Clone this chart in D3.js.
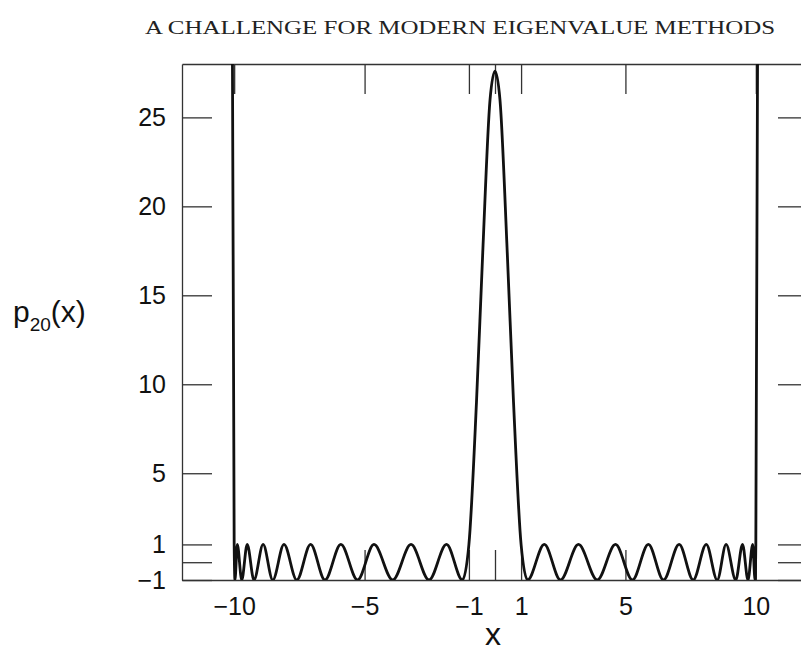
<!DOCTYPE html>
<html>
<head>
  <meta charset="utf-8">
  <title>p20(x)</title>
  <script src="https://d3js.org/d3.v7.min.js"></script>
  <style>
    body { margin: 0; background: #fff; }
    .tick text { font-family: "Liberation Sans", Arial, sans-serif; font-size: 25px; fill: #111; }
    .domain, .tick line { stroke: #333; stroke-width: 1.3px; }
  </style>
</head>
<body>
<svg id="chart" width="801" height="654"></svg>
<script>
  // points: extrema of the oscillations and a few points on the central peak
  const curveX = [
    -10.08, -10.0, -9.97, -9.88, -9.71, -9.50, -9.24, -8.89, -8.52, -8.09, -7.60,
    -7.07, -6.52, -5.91, -5.27, -4.64, -3.92, -3.22, -2.53, -1.86, -1.25, -1.0,
    -0.71, -0.47, -0.19, 0,
    0.19, 0.47, 0.71, 1.0, 1.25, 1.89, 2.51, 3.20, 3.92, 4.62, 5.27, 5.88, 6.46,
    7.06, 7.60, 8.10, 8.52, 8.86, 9.23, 9.49, 9.70, 9.88, 9.97, 10.0, 10.08
  ];
  const curveY = [
    34, 1, -1, 1, -1, 1, -1, 1, -1, 1, -1,
    1, -1, 1, -1, 1, -1, 1, -1, 1, -1, 1,
    9.0, 17.4, 26.0, 27.6,
    26.0, 17.4, 9.0, 1, -1, 1, -1, 1, -1, 1, -1, 1, -1,
    1, -1, 1, -1, 1, -1, 1, -1, 1, -1, 1, 34
  ];

  const xTicks = [-10, -5, -1, 0, 1, 5, 10];
  const yTicks = [-1, 0, 1, 5, 10, 15, 20, 25];
  const title = "A CHALLENGE FOR MODERN EIGENVALUE METHODS";

  const svg = d3.select("#chart");

  const x = d3.scaleLinear().domain([-12, 12]).range([182, 808]);
  const y = d3.scaleLinear().domain([-1, 28]).range([580, 64]);

  const fmt = d => d === 0 ? "" : d3.format("d")(d);

  // frame with inward ticks on all four sides
  svg.append("g")
    .attr("transform", "translate(0,580)")
    .call(d3.axisBottom(x).tickValues(xTicks).tickFormat(fmt).tickSizeInner(-30).tickSizeOuter(0).tickPadding(17));
  svg.append("g")
    .attr("transform", "translate(0,64)")
    .call(d3.axisTop(x).tickValues(xTicks).tickFormat("").tickSizeInner(-30).tickSizeOuter(0));
  svg.append("g")
    .attr("transform", "translate(182,0)")
    .call(d3.axisLeft(y).tickValues(yTicks).tickFormat(fmt).tickSizeInner(-30).tickSizeOuter(0).tickPadding(16));
  svg.append("g")
    .attr("transform", "translate(808,0)")
    .call(d3.axisRight(y).tickValues(yTicks).tickFormat("").tickSizeInner(-30).tickSizeOuter(0));

  svg.append("clipPath").attr("id", "plot")
    .append("rect").attr("x", 182).attr("y", 64).attr("width", 626).attr("height", 516);

  const pts = curveX.map((v, i) => [v, curveY[i]]);
  const line = d3.line()
    .x(d => x(d[0]))
    .y(d => y(d[1]))
    .curve(d3.curveMonotoneX);

  svg.append("path")
    .datum(pts)
    .attr("clip-path", "url(#plot)")
    .attr("d", line)
    .attr("fill", "none")
    .attr("stroke", "#111")
    .attr("stroke-width", 2.8)
    .attr("stroke-linejoin", "round");

  // title
  svg.append("text")
    .attr("x", 460).attr("y", 34)
    .attr("text-anchor", "middle")
    .attr("textLength", 630)
    .attr("lengthAdjust", "spacingAndGlyphs")
    .style("font-family", "'Liberation Serif', 'Times New Roman', serif")
    .style("font-size", "19px")
    .style("fill", "#222")
    .text(title);

  // axis labels
  svg.append("text")
    .attr("x", 493).attr("y", 645)
    .attr("text-anchor", "middle")
    .style("font-family", "'Liberation Sans', Arial, sans-serif")
    .style("font-size", "32px")
    .style("fill", "#111")
    .text("x");

  const yl = svg.append("text")
    .attr("x", 13).attr("y", 322)
    .style("font-family", "'Liberation Sans', Arial, sans-serif")
    .style("font-size", "30px")
    .style("fill", "#111");
  yl.append("tspan").text("p");
  yl.append("tspan").attr("dy", 9).style("font-size", "19px").text("20");
  yl.append("tspan").attr("dy", -9).text("(x)");
</script>
</body>
</html>
